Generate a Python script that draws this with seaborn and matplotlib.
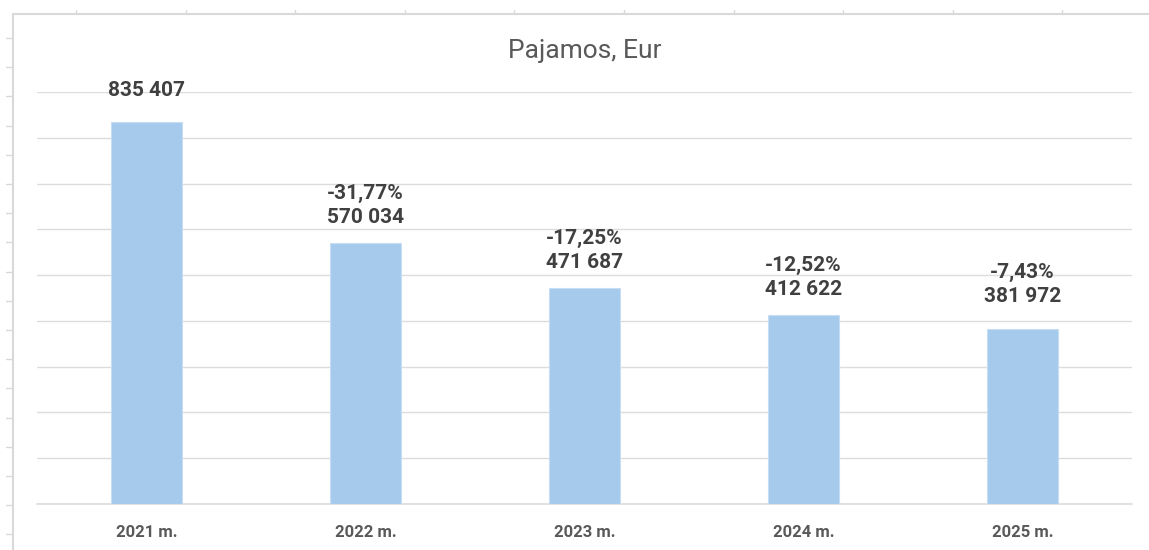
import matplotlib
matplotlib.use("Agg")
import matplotlib.pyplot as plt
from matplotlib.lines import Line2D
import seaborn as sns
import pandas as pd

# ---- data ----
years = ["2021 m.", "2022 m.", "2023 m.", "2024 m.", "2025 m."]
income = [835407, 570034, 471687, 412622, 381972]
changes = ["", "-31,77%", "-17,25%", "-12,52%", "-7,43%"]

df = pd.DataFrame({"year": years, "income": income})

sns.set_theme(style="white")
plt.rcParams["font.family"] = ["Roboto", "DejaVu Sans"]

W, H = 1149, 550
fig = plt.figure(figsize=(W / 100, H / 100), dpi=100)
fig.patch.set_facecolor("white")

ax = fig.add_axes([37 / W, (H - 504) / H, (1132 - 37) / W, (504 - 92) / H])
sns.barplot(data=df, x="year", y="income", color="#A6CAEC", width=0.32,
            saturation=1, edgecolor="#C6DDF3", linewidth=0.8, ax=ax, zorder=3)

ax.set_xlim(-0.5, len(years) - 0.5)
ax.set_ylim(0, 900000)
ax.set_yticks(range(0, 900001, 100000))
ax.yaxis.grid(True, color="#DCDCDC", linewidth=1.0)
ax.set_axisbelow(True)
ax.axhline(0, color="#DCDCDC", linewidth=1.2, clip_on=False, zorder=2)
for s in ax.spines.values():
    s.set_visible(False)
ax.tick_params(axis="y", left=False, labelleft=False)
ax.tick_params(axis="x", bottom=False, pad=9)
ax.set_xlabel("")
ax.set_ylabel("")
for t in ax.get_xticklabels():
    t.set_fontweight("bold")
    t.set_fontsize(12)
    t.set_color("#595959")

# data labels
offsets = [22, 16, 16, 16, 23]
for i, (v, c) in enumerate(zip(income, changes)):
    val = f"{v:,}".replace(",", " ")
    txt = val if not c else f"{c}\n{val}"
    ax.annotate(txt, xy=(i, v), xytext=(0, offsets[i]), textcoords="offset pixels",
                ha="center", va="bottom", fontsize=15, fontweight="bold",
                color="#404040", linespacing=1.35)

fig.text(585 / W, 1 - 51 / H, "Pajamos, Eur", ha="center", va="center",
         fontsize=19, color="#595959")

# chart frame / spreadsheet background lines
fc = "#D9D9D9"
fig.add_artist(Line2D([13 / W, 1], [1 - 14 / H, 1 - 14 / H], color=fc, lw=1.5))
fig.add_artist(Line2D([13 / W, 13 / W], [0, 1 - 14 / H], color=fc, lw=1.5))
for k in range(10):
    x = (76 + 109.6 * k) / W
    fig.add_artist(Line2D([x, x], [1 - 10 / H, 1 - 14 / H], color=fc, lw=1))
for k in range(18):
    y = 1 - (38 + 29.2 * k) / H
    fig.add_artist(Line2D([6 / W, 12 / W], [y, y], color=fc, lw=1))

fig.savefig("out.png", dpi=100, facecolor="white")
